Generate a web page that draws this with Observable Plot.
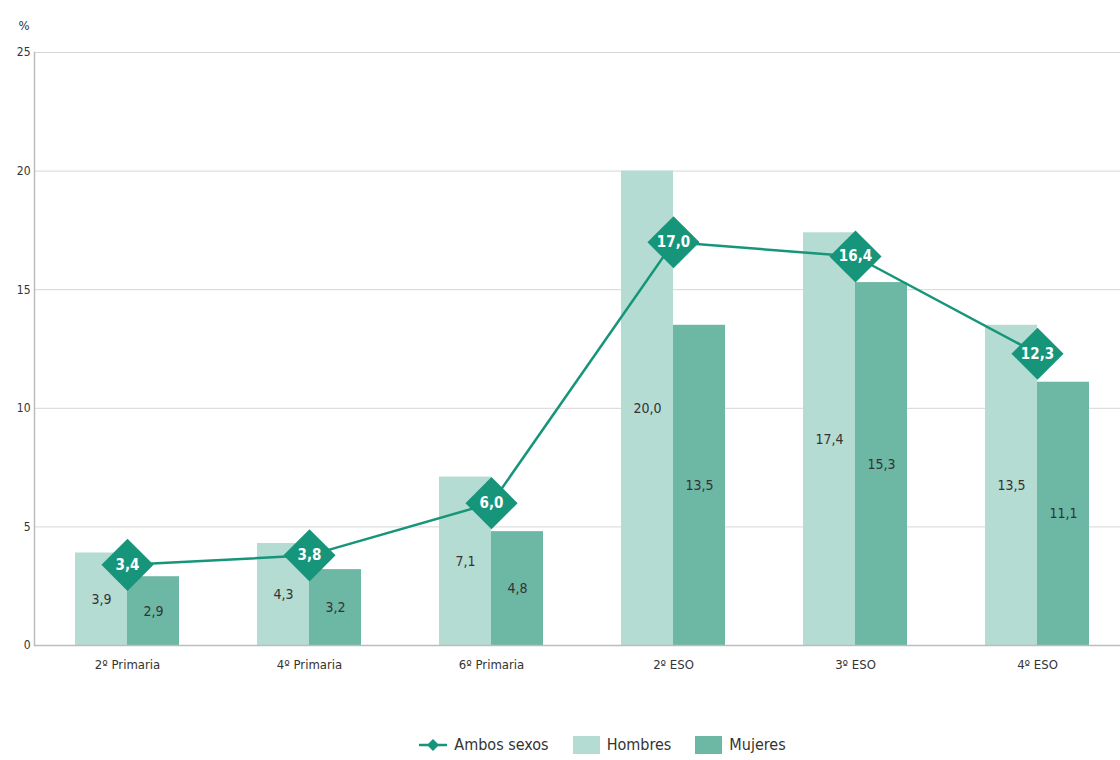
<!DOCTYPE html>
<html>
<head>
<meta charset="utf-8">
<script src="https://cdn.jsdelivr.net/npm/d3@7"></script>
<script src="https://cdn.jsdelivr.net/npm/@observablehq/plot@0.6"></script>
<style>
  body { margin: 0; background: #fff; font-family: "DejaVu Sans Condensed", "DejaVu Sans", sans-serif; font-stretch: condensed; }
  #chart svg { display: block; font-stretch: condensed; }
  .legend { display: flex; justify-content: center; align-items: center; padding-top: 35px; padding-left: 84px; font-size: 16px; color: #333; }
  .legend span.item { display: inline-flex; align-items: center; margin: 0 12px; }
  .sw { display: inline-block; width: 27px; height: 18px; margin-right: 7px; }
</style>
</head>
<body>
<div id="chart"></div>
<div class="legend">
  <span class="item"><svg width="30" height="16" style="margin-right:6px"><line x1="1" y1="8" x2="29" y2="8" stroke="#17957a" stroke-width="2.5"/><path d="M15 2 L21 8 L15 14 L9 8 Z" fill="#17957a"/></svg>Ambos sexos</span>
  <span class="item"><span class="sw" style="background:#b5dcd3"></span>Hombres</span>
  <span class="item"><span class="sw" style="background:#6db8a5"></span>Mujeres</span>
</div>
<script>
const categories = ["2º Primaria", "4º Primaria", "6º Primaria", "2º ESO", "3º ESO", "4º ESO"];
const hombres = [3.9, 4.3, 7.1, 20.0, 17.4, 13.5];
const mujeres = [2.9, 3.2, 4.8, 13.5, 15.3, 11.1];
const ambos = [3.4, 3.8, 6.0, 17.0, 16.4, 12.3];
const yTicks = [0, 5, 10, 15, 20, 25];

const fmt = v => v.toFixed(1).replace(".", ",");
const rows = categories.map((c, i) => ({cat: c, h: hombres[i], m: mujeres[i], a: ambos[i]}));

const colH = "#b5dcd3", colM = "#6db8a5", colA = "#17957a";
const half = 52;

const chart = Plot.plot({
  width: 1120,
  height: 700,
  marginLeft: 34,
  marginRight: 0,
  marginTop: 52,
  marginBottom: 55,
  style: {fontFamily: '"DejaVu Sans Condensed", "DejaVu Sans", sans-serif', fontSize: "13px", color: "#333"},
  x: {domain: categories, range: [34, 1129], paddingInner: 0.43, paddingOuter: 0.215, label: null},
  y: {domain: [0, 25], ticks: yTicks, label: null},
  marks: [
    Plot.gridY(yTicks.filter(d => d > 0), {stroke: "#d6d6d6", strokeOpacity: 1, strokeWidth: 1}),
    Plot.barY(rows, {x: "cat", y: "h", fill: colH, insetRight: half}),
    Plot.barY(rows, {x: "cat", y: "m", fill: colM, insetLeft: half}),
    Plot.text(rows, {x: "cat", y: d => d.h / 2, text: d => fmt(d.h), dx: -half / 2, fill: "#333", fontSize: 14}),
    Plot.text(rows, {x: "cat", y: d => d.m / 2, text: d => fmt(d.m), dx: half / 2, fill: "#333", fontSize: 14}),
    Plot.ruleY([0], {stroke: "#bdbdbd", strokeWidth: 1.5}),
    Plot.frame({anchor: "left", stroke: "#bdbdbd", strokeWidth: 1.5}),
    Plot.line(rows, {x: "cat", y: "a", stroke: colA, strokeWidth: 2.5}),
    Plot.dot(rows, {x: "cat", y: "a", symbol: "diamond2", r: 23.5, fill: colA}),
    Plot.text(rows, {x: "cat", y: "a", text: d => fmt(d.a), fill: "#fff", fontWeight: "bold", fontSize: 15}),
    Plot.axisY({ticks: yTicks, tickSize: 0, tickPadding: 4, fontSize: 12}),
    Plot.axisX({tickSize: 0, tickPadding: 14, fontSize: 13}),
    Plot.text(["%"], {frameAnchor: "top-left", dx: -16, dy: -32, fontSize: 13, fill: "#333"})
  ]
});
document.getElementById("chart").appendChild(chart);
</script>
</body>
</html>
